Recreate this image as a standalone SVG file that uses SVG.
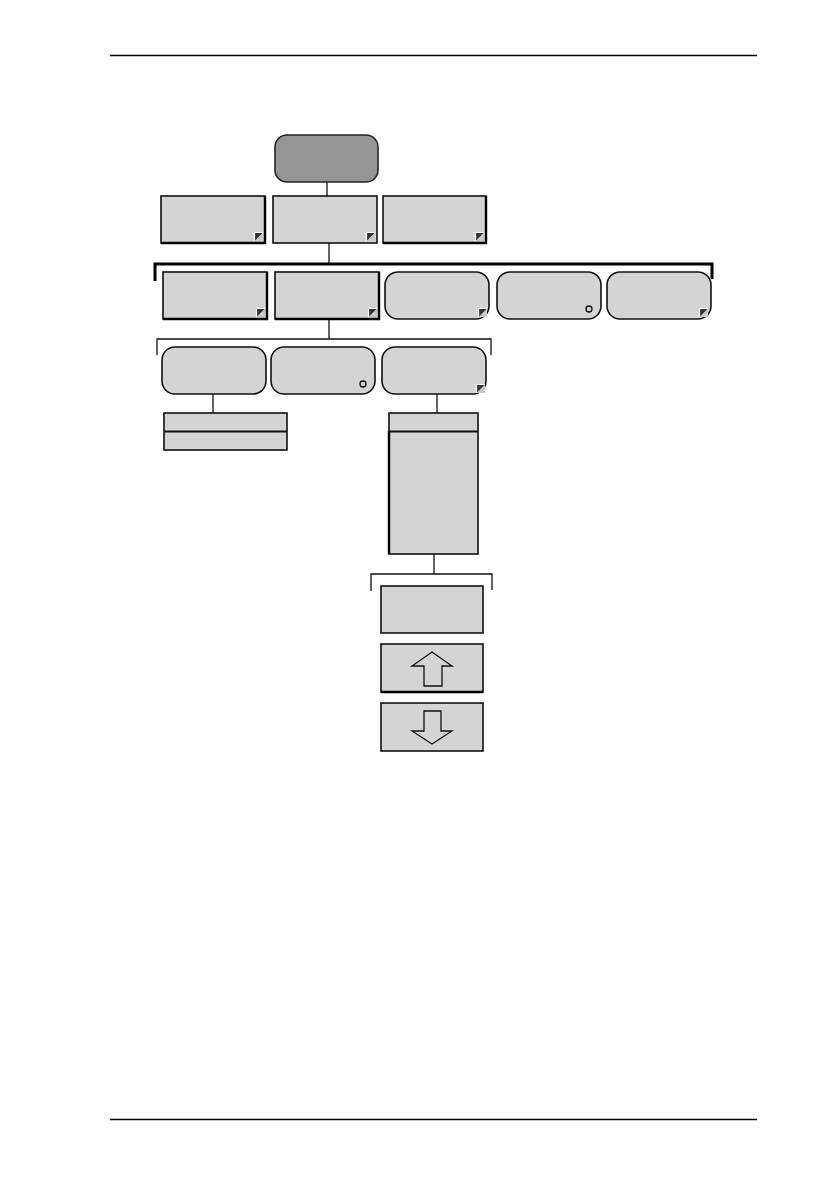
<svg xmlns="http://www.w3.org/2000/svg" width="840" height="1190" viewBox="0 0 840 1190">
<style>
.bx{fill:#d5d4d4;stroke:#111;stroke-width:1.6}
.root{fill:#969595;stroke:#222;stroke-width:1.6}
.sh{stroke:#000;stroke-width:2.4;fill:none}
.ln{stroke:#111;stroke-width:1.3;fill:none}
.br{stroke:#000;stroke-width:3;fill:none}
.br2{stroke:#111;stroke-width:1.3;fill:none}
.mk{fill:#333}
.mkw{fill:none;stroke:#fff;stroke-width:1.2}
.dot{fill:none;stroke:#111;stroke-width:1.3}
.rule{stroke:#000;stroke-width:1.5}
.arw{fill:none;stroke:#111;stroke-width:1.3;stroke-linejoin:miter}
</style>
<defs>
<g id="mark">
<rect x="0" y="0" width="8.5" height="8.5" fill="#c8c8c8"/>
<polygon points="0,0 8.5,0 0,8.5" class="mk"/>
<polyline points="0,8.5 0,0 8.5,0" class="mkw"/>
</g>
</defs>
<line class="rule" x1="110" y1="55.5" x2="757" y2="55.5"/>
<line class="rule" x1="110" y1="1119.5" x2="757" y2="1119.5"/>

<g id="connectors">
<line class="ln" x1="327" y1="182" x2="327" y2="196"/>
<line class="ln" x1="329" y1="243" x2="329" y2="264"/>
<polyline class="br" points="155,281 155,264 712,264 712,279"/>
<line class="ln" x1="329" y1="319" x2="329" y2="339"/>
<polyline class="br2" points="157,355 157,339 491,339 491,355"/>
<line class="ln" x1="213" y1="394" x2="213" y2="413"/>
<line class="ln" x1="437" y1="394" x2="437" y2="413"/>
<line class="ln" x1="434" y1="554" x2="434" y2="574"/>
<polyline class="br2" points="371,591 371,574 492,574 492,590"/>
</g>

<g id="root"><rect class="root" x="275" y="135" width="103" height="47" rx="12"/></g>

<g id="r1a"><rect class="bx" x="161" y="196" width="104" height="47"/><polyline class="sh" points="265,196 265,243 161,243"/><use href="#mark" x="254.5" y="232.5"/></g>
<g id="r1b"><rect class="bx" x="273" y="196" width="104" height="47"/><use href="#mark" x="366.5" y="232.5"/></g>
<g id="r1c"><rect class="bx" x="383" y="196" width="103" height="47"/><polyline class="sh" points="486,196 486,243 383,243"/><use href="#mark" x="475.5" y="232.5"/></g>

<g id="r2a"><rect class="bx" x="163" y="272" width="104" height="47"/><polyline class="sh" points="267,272 267,319 163,319"/><use href="#mark" x="256.5" y="308.5"/></g>
<g id="r2b"><rect class="bx" x="275" y="272" width="104" height="47"/><polyline class="sh" points="379,272 379,319 275,319"/><use href="#mark" x="368.5" y="308.5"/></g>
<g id="r2c"><rect class="bx" x="385" y="272" width="104" height="47" rx="13"/><use href="#mark" x="478.5" y="308.5"/></g>
<g id="r2d"><rect class="bx" x="497" y="272" width="104" height="47" rx="13"/><circle class="dot" cx="589" cy="309" r="3"/></g>
<g id="r2e"><rect class="bx" x="607" y="272" width="104" height="47" rx="13"/><use href="#mark" x="699.5" y="308.5"/></g>

<g id="r3a"><rect class="bx" x="162" y="347" width="104" height="47" rx="13"/></g>
<g id="r3b"><rect class="bx" x="271" y="347" width="104" height="47" rx="13"/><circle class="dot" cx="363" cy="384" r="3"/></g>
<g id="r3c"><rect class="bx" x="382" y="347" width="104" height="47" rx="13"/><use href="#mark" x="476.5" y="384.5"/></g>

<g id="listL"><rect class="bx" x="164" y="413" width="123" height="37"/><line stroke="#111" stroke-width="2.2" x1="164" y1="431.5" x2="287" y2="431.5"/></g>

<g id="listR"><rect class="bx" x="389" y="413" width="89" height="141"/><line stroke="#111" stroke-width="2.2" x1="389" y1="431.5" x2="478" y2="431.5"/><line stroke="#000" stroke-width="2.4" x1="389" y1="431" x2="389" y2="554"/></g>

<g id="btnA"><rect class="bx" x="381" y="586" width="102" height="47"/></g>
<g id="btnUp"><rect class="bx" x="381" y="644" width="102" height="48"/><line stroke="#000" stroke-width="2.4" x1="381" y1="692" x2="483" y2="692"/><polygon class="arw" points="432,652 452,666 442,666 442,686 424,686 424,666 412,666"/></g>
<g id="btnDn"><rect class="bx" x="381" y="703" width="102" height="48"/><polygon class="arw" points="424,711 441,711 441,731 452,731 432,744 412,731 424,731"/></g>
</svg>
